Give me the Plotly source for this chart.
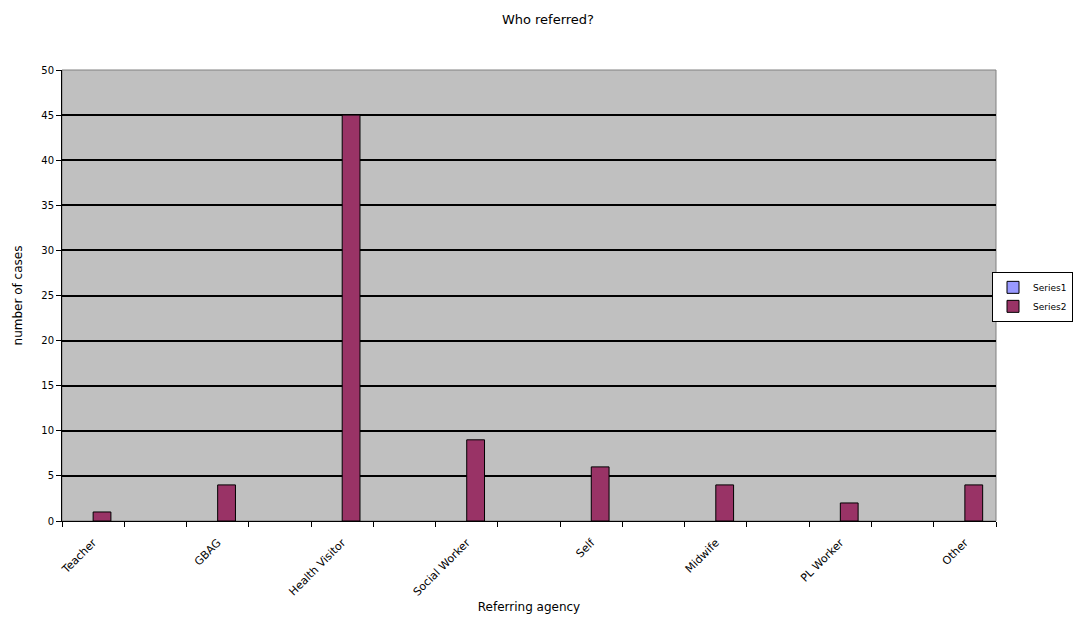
import plotly.graph_objects as go

agencies = ["Teacher", "GBAG", "Health Visitor", "Social Worker", "Self", "Midwife", "PL Worker", "Other"]
series1 = [None, None, None, None, None, None, None, None]
series2 = [1, 4, 45, 9, 6, 4, 2, 4]
y_ticks = list(range(0, 51, 5))

# Excel axis holds 15 category slots; labelled agencies sit on every second slot
n_slots = 2 * len(agencies) - 1
slots = [2 * i for i in range(len(agencies))]
boundaries = [k - 0.5 for k in range(n_slots + 1)]
bar_w = 1 / 3.5

font = "DejaVu Sans, Verdana, sans-serif"

fig = go.Figure()
fig.add_trace(go.Bar(
    x=slots, y=series1, name="Series1", width=bar_w, offset=-bar_w,
    marker=dict(color="#9999FF", line=dict(color="black", width=1)),
))
fig.add_trace(go.Bar(
    x=slots, y=series2, name="Series2", width=bar_w, offset=0,
    marker=dict(color="#993366", line=dict(color="black", width=1)),
))

fig.update_layout(
    width=1065, height=625,
    margin=dict(l=54, r=77, t=62, b=112, autoexpand=False),
    paper_bgcolor="white",
    plot_bgcolor="#C0C0C0",
    barmode="overlay",
    font=dict(family=font, size=11, color="black"),
    title=dict(text="Who referred?", x=0.507, xanchor="center", y=0.982, yanchor="middle",
               font=dict(family=font, size=13, color="black")),
    showlegend=True,
    legend=dict(xref="container", x=1.004, xanchor="right", y=0.497, yanchor="middle",
                bgcolor="white", bordercolor="black", borderwidth=1,
                font=dict(family=font, size=9), itemwidth=30,
                tracegroupgap=0),
    shapes=[dict(type="rect", xref="paper", yref="paper", x0=0, x1=1, y0=0, y1=1,
                 line=dict(color="#808080", width=1), layer="below")],
)

fig.update_xaxes(
    range=[-0.5, n_slots - 0.5], automargin=False,
    tickmode="array", tickvals=slots, ticktext=agencies,
    tickangle=-45, ticks="", showgrid=False, zeroline=False,
    showline=True, linecolor="black", linewidth=1,
    ticklabelstandoff=10,
    title=dict(text="Referring agency", font=dict(family=font, size=12), standoff=4),
    tickfont=dict(family=font, size=11),
)
# second x axis only for the tick marks at the slot boundaries
fig.update_layout(xaxis2=dict(
    overlaying="x", anchor="y", side="bottom", matches="x",
    range=[-0.5, n_slots - 0.5], automargin=False,
    tickmode="array", tickvals=boundaries, ticktext=[""] * len(boundaries),
    ticks="outside", ticklen=5, tickcolor="black", tickwidth=1,
    showgrid=False, zeroline=False, showline=False, showticklabels=False,
))
fig.add_trace(go.Scatter(x=[None], y=[None], xaxis="x2", showlegend=False, hoverinfo="skip"))

fig.update_yaxes(
    range=[0, 50], automargin=False, tickmode="array", tickvals=y_ticks,
    ticks="outside", ticklen=5, tickcolor="black",
    showgrid=True, gridcolor="black", gridwidth=1.5,
    zeroline=False, showline=True, linecolor="black", linewidth=1,
    title=dict(text="number of cases", font=dict(family=font, size=12), standoff=16),
    tickfont=dict(family=font, size=10),
)

fig.write_html("out.html")
